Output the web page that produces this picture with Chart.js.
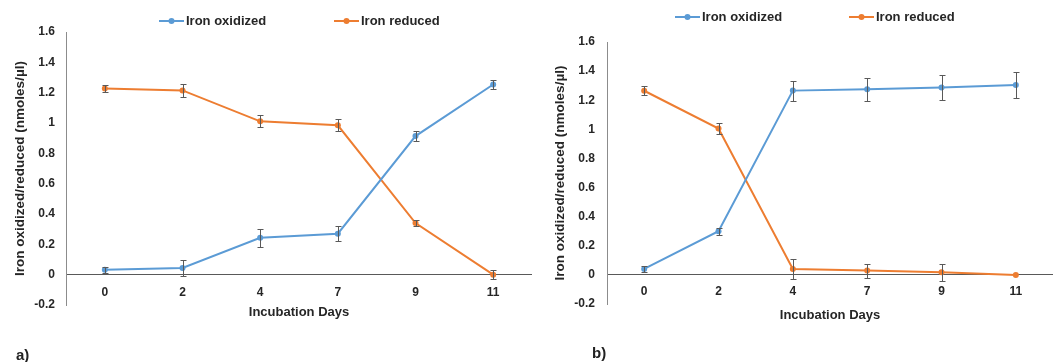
<!DOCTYPE html>
<html>
<head>
<meta charset="utf-8">
<script src="https://cdn.jsdelivr.net/npm/chart.js@4.4.1/dist/chart.umd.min.js"></script>
<style>
  html, body { margin: 0; padding: 0; background: #fff; overflow: hidden; }
  #wrap { position: relative; width: 1054px; height: 362px; overflow: hidden; }
  .cv { position: absolute; top: 0; }
  .tag { position: absolute; font: bold 15px "Liberation Sans", Arial, sans-serif; color: #222; }
</style>
</head>
<body>
<div id="wrap">
  <div class="cv" style="left:0;width:540px;height:362px;"><canvas id="chartA"></canvas></div>
  <div class="cv" style="left:527px;width:530px;height:362px;"><canvas id="chartB"></canvas></div>
  <div class="tag" style="left:16px;top:346px;">a)</div>
  <div class="tag" style="left:592px;top:344px;">b)</div>
</div>
<script>
// ---- data ----
const days = ['0', '2', '4', '7', '9', '11'];
const seriesNames = ['Iron oxidized', 'Iron reduced'];
const yTicksMin = -0.2;
const yTicksMax = 1.6;
const yTickStep = 0.2;

// panel a
const aOxidized    = [0.033, 0.044, 0.243, 0.27, 0.914, 1.254];
const aOxidizedErr = [0.02, 0.05, 0.06, 0.05, 0.035, 0.03];
const aReduced     = [1.228, 1.215, 1.011, 0.985, 0.34, 0.0];
const aReducedErr  = [0.025, 0.045, 0.04, 0.04, 0.02, 0.03];

// panel b
const bOxidized    = [0.041, 0.30, 1.266, 1.275, 1.287, 1.305];
const bOxidizedErr = [0.02, 0.025, 0.068, 0.08, 0.087, 0.09];
const bReduced     = [1.265, 1.005, 0.041, 0.03, 0.018, 0.0];
const bReducedErr  = [0.03, 0.04, 0.07, 0.048, 0.057, 0];

// ---- styling ----
const BLUE = '#5B9BD5';
const ORANGE = '#ED7D31';
const TEXT = '#262626';
const FONT = '"Liberation Sans", Arial, sans-serif';

const errorBarPlugin = {
  id: 'errorBars',
  afterDatasetsDraw(chart) {
    const ctx = chart.ctx;
    const yScale = chart.scales.y;
    ctx.save();
    ctx.strokeStyle = '#595959';
    ctx.lineWidth = 1;
    chart.data.datasets.forEach((ds, di) => {
      const meta = chart.getDatasetMeta(di);
      if (!ds.errors) return;
      meta.data.forEach((pt, i) => {
        const e = ds.errors[i];
        if (!e) return;
        const v = ds.data[i];
        const x = Math.round(pt.x) + 0.5;
        const yTop = Math.round(yScale.getPixelForValue(v + e)) + 0.5;
        const yBot = Math.round(yScale.getPixelForValue(v - e)) + 0.5;
        ctx.beginPath();
        ctx.moveTo(x, yTop); ctx.lineTo(x, yBot);
        ctx.moveTo(x - 3, yTop); ctx.lineTo(x + 3, yTop);
        ctx.moveTo(x - 3, yBot); ctx.lineTo(x + 3, yBot);
        ctx.stroke();
      });
    });
    ctx.restore();
  }
};

// x tick labels drawn just under the zero line (Excel-style axis crossing)
const xLabelPlugin = {
  id: 'xLabels',
  afterDraw(chart, args, opts) {
    const ctx = chart.ctx;
    const xScale = chart.scales.x;
    ctx.save();
    ctx.font = 'bold 12px ' + FONT;
    ctx.fillStyle = TEXT;
    ctx.textAlign = 'center';
    ctx.textBaseline = 'middle';
    chart.data.labels.forEach((lab, i) => {
      ctx.fillText(lab, xScale.getPixelForValue(i), opts.y);
    });
    ctx.restore();
  }
};

const legendPlugin = {
  id: 'customLegend',
  afterDraw(chart, args, opts) {
    const ctx = chart.ctx;
    ctx.save();
    ctx.font = 'bold 13px ' + FONT;
    ctx.textBaseline = 'middle';
    ctx.textAlign = 'left';
    chart.data.datasets.forEach((ds, i) => {
      const x = opts.xs[i];
      const y = opts.y;
      ctx.strokeStyle = ds.borderColor;
      ctx.lineWidth = 2;
      ctx.beginPath();
      ctx.moveTo(x, y); ctx.lineTo(x + 25, y);
      ctx.stroke();
      ctx.fillStyle = ds.borderColor;
      ctx.beginPath();
      ctx.arc(x + 12.5, y, 3, 0, Math.PI * 2);
      ctx.fill();
      ctx.fillStyle = TEXT;
      ctx.fillText(ds.label, x + 27, y);
    });
    ctx.restore();
  }
};

function makeChart(id, ox, oxErr, red, redErr, geo) {
  return new Chart(document.getElementById(id), {
    type: 'line',
    data: {
      labels: days,
      datasets: [
        { label: seriesNames[0], data: ox, errors: oxErr, borderColor: BLUE, backgroundColor: BLUE,
          borderWidth: 2, pointRadius: 3, pointBackgroundColor: BLUE, pointBorderWidth: 0, tension: 0 },
        { label: seriesNames[1], data: red, errors: redErr, borderColor: ORANGE, backgroundColor: ORANGE,
          borderWidth: 2, pointRadius: 3, pointBackgroundColor: ORANGE, pointBorderWidth: 0, tension: 0 }
      ]
    },
    options: {
      responsive: true,
      maintainAspectRatio: false,
      animation: false,
      layout: { padding: { top: geo.top, bottom: geo.bottom, left: 0, right: geo.right } },
      plugins: {
        legend: { display: false },
        tooltip: { enabled: false },
        customLegend: { xs: geo.legendXs, y: geo.legendY },
        xLabels: { y: geo.xLabelY }
      },
      scales: {
        x: {
          type: 'category',
          offset: true,
          grid: { display: false, drawTicks: false },
          border: { display: false },
          ticks: { display: false },
          title: { display: true, text: 'Incubation Days', color: TEXT,
                   font: { family: FONT, size: 13, weight: 'bold' }, padding: { top: 0, bottom: geo.xTitlePad } },
          afterFit(s) { s.height = 20; }
        },
        y: {
          min: yTicksMin, max: yTicksMax,
          grid: {
            drawTicks: false,
            lineWidth: 1,
            color: (c) => (c.tick && Math.abs(c.tick.value) < 1e-9) ? '#595959' : 'rgba(0,0,0,0)'
          },
          border: { display: true, color: '#8c8c8c', width: 1 },
          ticks: {
            stepSize: yTickStep, color: TEXT, padding: geo.yTickPad,
            font: { family: FONT, size: 12, weight: 'bold' },
            callback: (v) => String(parseFloat(Number(v).toFixed(1)))
          },
          title: { display: true, text: 'Iron oxidized/reduced (nmoles/\u00b5l)', color: TEXT,
                   font: { family: FONT, size: 13.5, weight: 'bold' }, padding: { top: geo.yTitlePad, bottom: 0 } },
          afterFit(s) { s.width = geo.yWidth; }
        }
      }
    },
    plugins: [errorBarPlugin, xLabelPlugin, legendPlugin]
  });
}

makeChart('chartA', aOxidized, aOxidizedErr, aReduced, aReducedErr, {
  top: 32, bottom: 37, right: 8, yWidth: 66, yTickPad: 11, yTitlePad: 12,
  xLabelY: 293, xTitlePad: 5, legendXs: [159, 334], legendY: 21
});
makeChart('chartB', bOxidized, bOxidizedErr, bReduced, bReducedErr, {
  top: 42, bottom: 38, right: 0, yWidth: 80, yTickPad: 12, yTitlePad: 25,
  xLabelY: 292, xTitlePad: 1, legendXs: [148, 322], legendY: 17
});
</script>
</body>
</html>
